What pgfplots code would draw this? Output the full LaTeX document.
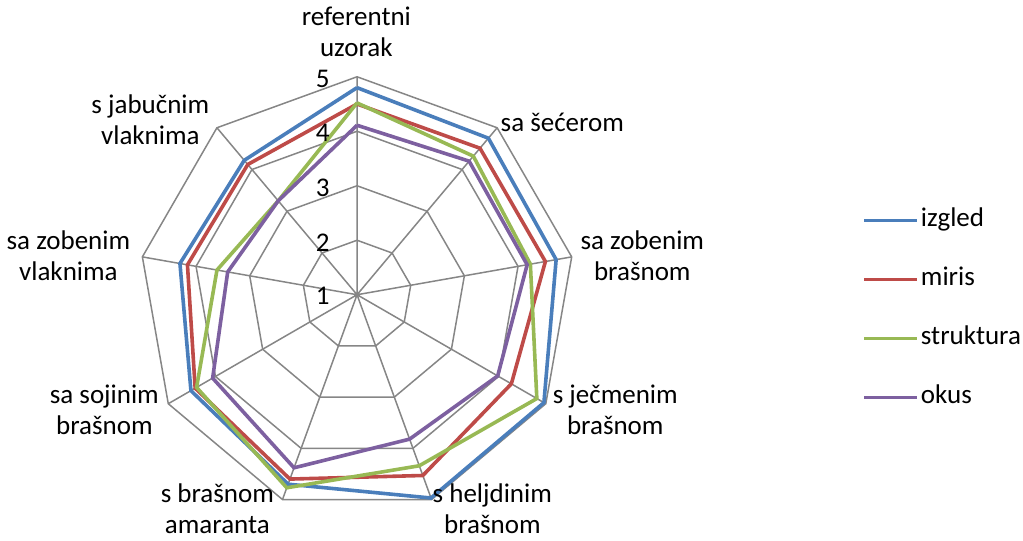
\documentclass[border=0pt]{standalone}
\usepackage{pgfplots}
\usepackage{pgfplotstable}
\pgfplotsset{compat=1.18}
\usepackage{fontspec}
\setmainfont{Carlito}
\definecolor{cizg}{RGB}{74,126,187}
\definecolor{cmir}{RGB}{190,75,72}
\definecolor{cstr}{RGB}{152,185,84}
\definecolor{coku}{RGB}{125,96,160}
\definecolor{cgrid}{RGB}{134,134,134}
\pgfplotstableread{
k izgled miris struktura okus
0 4.80 4.50 4.52 4.11
1 4.75 4.51 4.32 4.20
2 4.71 4.51 4.23 4.17
3 4.96 4.27 4.81 3.98
4 4.97 4.53 4.34 3.82
5 4.70 4.60 4.77 4.38
6 4.52 4.43 4.40 4.06
7 4.30 4.16 3.61 3.41
8 4.22 4.12 3.25 3.25
9 4.80 4.50 4.52 4.11
}\data
\pgfplotstableread{
k r2 r3 r4 r5
0 2 3 4 5
1 2 3 4 5
2 2 3 4 5
3 2 3 4 5
4 2 3 4 5
5 2 3 4 5
6 2 3 4 5
7 2 3 4 5
8 2 3 4 5
9 2 3 4 5
}\rings
\pgfplotstableread{
k v
0 1
0 5
1 1
1 5
2 1
2 5
3 1
3 5
4 1
4 5
5 1
5 5
6 1
6 5
7 1
7 5
8 1
8 5
}\spokes
\begin{document}
\begin{tikzpicture}[font=\fontsize{13.5}{15.5}\selectfont]
\begin{axis}[
  scale only axis, width=511.5pt, height=271pt,
  xmin=-6.545, xmax=12.226, ymin=-4.453, ymax=5.492,
  hide axis, clip=false,
  legend style={draw=none, fill=none, inner sep=0pt, row sep=17pt,
    at={(axis cs:9.266,-0.26)}, anchor=west,
    nodes={inner xsep=1pt, inner ysep=0pt, text height=9.5pt, text depth=3pt}},
  legend cell align=left,
  legend image code/.code={\draw[#1] (0pt,0pt) -- (26.5pt,0pt);},
]
\addplot[cgrid, line width=0.75pt, forget plot] table[x expr={(\thisrow{v}-1)*sin(40*\thisrow{k})}, y expr={(\thisrow{v}-1)*cos(40*\thisrow{k})}] {\spokes};
\addplot[cgrid, line width=0.75pt, forget plot] table[x expr={(\thisrow{r2}-1)*sin(40*\thisrow{k})}, y expr={(\thisrow{r2}-1)*cos(40*\thisrow{k})}] {\rings};
\addplot[cgrid, line width=0.75pt, forget plot] table[x expr={(\thisrow{r3}-1)*sin(40*\thisrow{k})}, y expr={(\thisrow{r3}-1)*cos(40*\thisrow{k})}] {\rings};
\addplot[cgrid, line width=0.75pt, forget plot] table[x expr={(\thisrow{r4}-1)*sin(40*\thisrow{k})}, y expr={(\thisrow{r4}-1)*cos(40*\thisrow{k})}] {\rings};
\addplot[cgrid, line width=0.75pt, forget plot] table[x expr={(\thisrow{r5}-1)*sin(40*\thisrow{k})}, y expr={(\thisrow{r5}-1)*cos(40*\thisrow{k})}] {\rings};
\addplot[cizg, line width=1.8pt, line join=miter] table[x expr={(\thisrow{izgled}-1)*sin(40*\thisrow{k})}, y expr={(\thisrow{izgled}-1)*cos(40*\thisrow{k})}] {\data};
\addlegendentry{izgled}
\addplot[cmir, line width=1.8pt, line join=miter] table[x expr={(\thisrow{miris}-1)*sin(40*\thisrow{k})}, y expr={(\thisrow{miris}-1)*cos(40*\thisrow{k})}] {\data};
\addlegendentry{miris}
\addplot[cstr, line width=1.8pt, line join=miter] table[x expr={(\thisrow{struktura}-1)*sin(40*\thisrow{k})}, y expr={(\thisrow{struktura}-1)*cos(40*\thisrow{k})}] {\data};
\addlegendentry{struktura}
\addplot[coku, line width=1.8pt, line join=miter] table[x expr={(\thisrow{okus}-1)*sin(40*\thisrow{k})}, y expr={(\thisrow{okus}-1)*cos(40*\thisrow{k})}] {\data};
\addlegendentry{okus}
% scale labels
\node at (axis cs:-0.628,3.969) {5};
\node at (axis cs:-0.628,2.969) {4};
\node at (axis cs:-0.628,1.958) {3};
\node at (axis cs:-0.628,0.950) {2};
\node at (axis cs:-0.628,-0.022) {1};
% category labels
\node[align=center] at (axis cs:-0.013,4.83) {referentni\\uzorak};
\node[align=center] at (axis cs:3.767,3.161) {sa šećerom};
\node[align=center] at (axis cs:5.235,0.721) {sa zobenim\\brašnom};
\node[align=center] at (axis cs:4.739,-2.105) {s ječmenim\\brašnom};
\node[align=center] at (axis cs:2.483,-3.922) {s heljdinim\\brašnom};
\node[align=center] at (axis cs:-2.563,-3.922) {s brašnom\\amaranta};
\node[align=center] at (axis cs:-4.637,-2.105) {sa sojinim\\brašnom};
\node[align=center] at (axis cs:-5.297,0.721) {sa zobenim\\vlaknima};
\node[align=center] at (axis cs:-3.793,3.217) {s jabučnim\\vlaknima};
\end{axis}
\end{tikzpicture}
\end{document}
